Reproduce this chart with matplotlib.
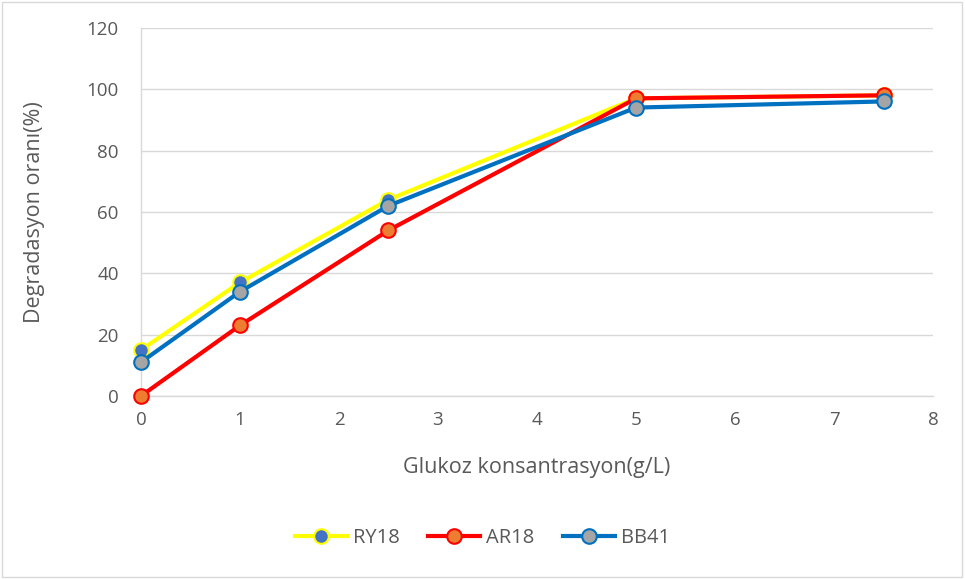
import matplotlib
matplotlib.use('Agg')
import matplotlib.pyplot as plt
from matplotlib.patches import Rectangle

# values
glukoz = [0, 1, 2.5, 5, 7.5]
ry18 = [15, 37, 64, 97, 98]
ar18 = [0, 23, 54, 97, 98]
bb41 = [11, 34, 62, 94, 96]

series = [
    ('RY18', ry18, '#ffff00', '#4472c4'),
    ('AR18', ar18, '#ff0000', '#ed7d31'),
    ('BB41', bb41, '#0070c0', '#a5a5a5'),
]

plt.rcParams['font.family'] = ['Open Sans', 'DejaVu Sans']
grey_text = '#595959'
grid_col = '#d9d9d9'

fig = plt.figure(figsize=(9.65, 5.79), dpi=100)
ax = fig.add_axes([0.146, 0.316, 0.821, 0.636])

for name, vals, lc, fc in series:
    ax.plot(glukoz, vals, color=lc, lw=3, marker='o', ms=10.5,
            markerfacecolor=fc, markeredgecolor=lc, markeredgewidth=1.5,
            label=name, zorder=3, clip_on=False)

ax.set_xlim(0, 8)
ax.set_ylim(0, 120)
ax.set_xticks(range(0, 9))
ax.set_yticks(range(0, 121, 20))
ax.grid(axis='y', color=grid_col, lw=1)
ax.set_axisbelow(True)
for s in ['top', 'right']:
    ax.spines[s].set_visible(False)
for s in ['left', 'bottom']:
    ax.spines[s].set_color(grid_col)
    ax.spines[s].set_linewidth(1)
ax.tick_params(length=0, labelsize=13.5, colors=grey_text)
ax.tick_params(axis='y', pad=16)
ax.tick_params(axis='x', pad=11)

ax.set_xlabel('Glukoz konsantrasyon(g/L)', fontsize=15.5, color=grey_text, labelpad=20)
ax.set_ylabel('Degradasyon oranı(%)', fontsize=15.5, color=grey_text, labelpad=30)

leg = fig.legend(loc='center', bbox_to_anchor=(0.5, 0.07), ncol=3, frameon=False,
                 fontsize=14.5, handlelength=2.6, columnspacing=1.4, handletextpad=0.3)
for t in leg.get_texts():
    t.set_color(grey_text)

fig.patches.append(Rectangle((0.002, 0.003), 0.995, 0.994, transform=fig.transFigure,
                             fill=False, edgecolor='#d9d9d9', lw=1))

fig.savefig('out.png', dpi=100)
